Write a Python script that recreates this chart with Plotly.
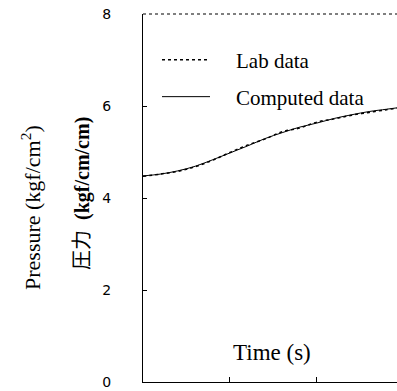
import plotly.graph_objects as go

time_lab = [0, 0.2, 0.4, 0.6, 0.8, 1.0, 1.2, 1.4, 1.6, 1.8, 2.0, 2.2, 2.4, 2.6, 2.8, 2.92]
pressure_lab = [4.47, 4.52, 4.58, 4.68, 4.82, 4.99, 5.15, 5.28, 5.44, 5.52, 5.65, 5.72, 5.80, 5.86, 5.92, 5.95]
time_comp = [0, 0.2, 0.4, 0.6, 0.8, 1.0, 1.2, 1.4, 1.6, 1.8, 2.0, 2.2, 2.4, 2.6, 2.8, 2.92]
pressure_comp = [4.48, 4.52, 4.59, 4.69, 4.83, 4.98, 5.13, 5.29, 5.42, 5.54, 5.63, 5.73, 5.81, 5.88, 5.93, 5.96]
y_ticks = [0, 2, 4, 6, 8]
x_ticks = [1, 2]

W, H = 397, 391
L, R, T, B = 143, 0, 14, 9
pw = W - L - R
ph = H - T - B

serif = "Liberation Serif, Times New Roman, serif"
pad = "\u00a0" * 4

fig = go.Figure()
fig.add_trace(go.Scatter(x=time_lab, y=pressure_lab, mode="lines", name=pad + "Lab data",
                         legend="legend",
                         line=dict(color="black", width=1.5, dash="dot", shape="spline")))
fig.add_trace(go.Scatter(x=time_comp, y=pressure_comp, mode="lines", name=pad + "Computed data",
                         legend="legend2",
                         line=dict(color="black", width=1, shape="spline")))

leg_common = dict(xanchor="left", yanchor="middle", bgcolor="rgba(0,0,0,0)",
                  font=dict(size=21, family=serif), itemwidth=48)

fig.update_layout(
    width=W, height=H,
    margin=dict(l=L, r=R, t=T, b=B),
    paper_bgcolor="white", plot_bgcolor="white",
    font=dict(family=serif, size=15, color="black"),
    showlegend=True,
    legend=dict(x=(157 - L) / pw, y=1 - (60 - T) / ph, **leg_common),
    legend2=dict(x=(157 - L) / pw, y=1 - (97 - T) / ph, **leg_common),
    xaxis=dict(range=[0, 2.92], showgrid=False, zeroline=False, showline=True,
               linecolor="black", linewidth=1.2, tickvals=x_ticks, ticks="inside",
               ticklen=5, tickcolor="black", showticklabels=False),
    yaxis=dict(range=[0, 8], showgrid=False, zeroline=False, showline=True,
               linecolor="black", linewidth=1.2, tickvals=y_ticks, ticks="inside",
               ticklen=4, tickcolor="black", ticklabelstandoff=28,
               tickfont=dict(family="DejaVu Sans", size=14)),
)

fig.add_shape(type="line", xref="paper", yref="paper", x0=0, x1=1, y0=1, y1=1,
              line=dict(color="black", width=1.2, dash="dot"))

fig.add_annotation(text="Time (s)", xref="paper", yref="paper",
                   x=(272 - L) / pw, y=1 - (352 - T) / ph, showarrow=False,
                   xanchor="center", yanchor="middle",
                   font=dict(size=23, family=serif))
fig.add_annotation(text="Pressure (kgf/cm<sup>2</sup>)", xref="paper", yref="paper",
                   x=(31 - L) / pw, y=1 - (208 - T) / ph, showarrow=False, textangle=-90,
                   xanchor="center", yanchor="middle",
                   font=dict(size=22, family=serif))
fig.add_annotation(text="圧力  <b>(kgf/cm/cm)</b>", xref="paper", yref="paper",
                   x=(83 - L) / pw, y=1 - (194 - T) / ph, showarrow=False, textangle=-90,
                   xanchor="center", yanchor="middle",
                   font=dict(size=20, family="Liberation Serif, Noto Sans CJK JP"))

fig.write_html("out.html")
